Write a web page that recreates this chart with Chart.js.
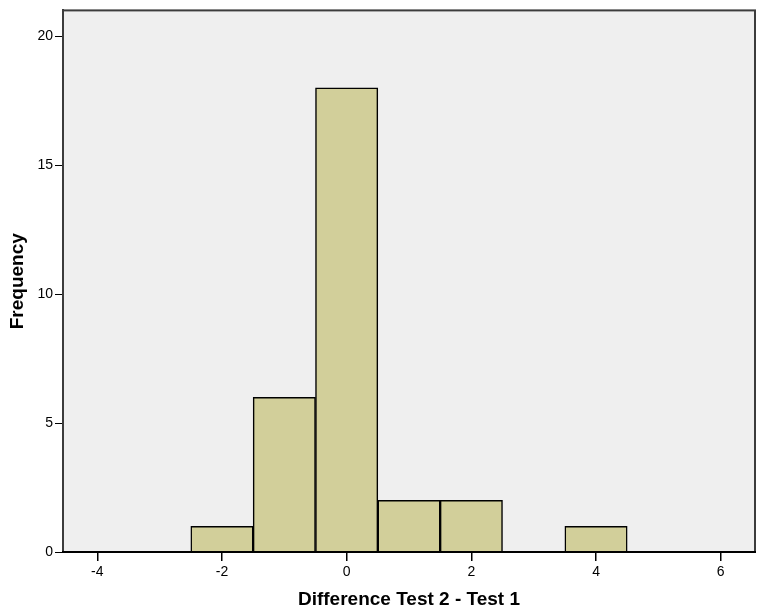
<!DOCTYPE html>
<html>
<head>
<meta charset="utf-8">
<script src="https://cdn.jsdelivr.net/npm/chart.js@4"></script>
<style>
  html, body { margin: 0; padding: 0; background: #fff; }
  #wrap { width: 771px; height: 611px; }
</style>
</head>
<body>
<div id="wrap"><canvas id="histChart" width="771" height="611"></canvas></div>
<script>
// histogram bins (centre of each 1-wide bin) and counts
const binCenters = [-2, -1, 0, 1, 2, 3, 4];
const frequencies = [1, 6, 18, 2, 2, 0, 1];
const xTicks = [-4, -2, 0, 2, 4, 6];
const yTicks = [0, 5, 10, 15, 20];

const ctx = document.getElementById("histChart");

// grey plot background + frame round the chart area
const plotFrame = {
  id: "plotFrame",
  beforeDatasetsDraw(chart) {
    const a = chart.chartArea;
    const c = chart.ctx;
    c.save();
    c.fillStyle = "#efefef";
    c.fillRect(a.left, a.top, a.right - a.left, a.bottom - a.top);
    c.restore();
  },
  afterDatasetsDraw(chart) {
    const a = chart.chartArea;
    const c = chart.ctx;
    c.save();
    c.strokeStyle = "#3c3c3c";
    c.lineWidth = 2;
    c.strokeRect(a.left, a.top, a.right - a.left, a.bottom - a.top);
    // bottom axis is black in the original
    c.strokeStyle = "#000";
    c.beginPath();
    c.moveTo(a.left - 1, a.bottom);
    c.lineTo(a.right + 1, a.bottom);
    c.stroke();
    c.restore();
  },
};

const tickFont = { family: "Arial, 'Liberation Sans'", size: 14 };
const titleFont = { family: "Arial, 'Liberation Sans'", size: 19, weight: "bold" };

new Chart(ctx, {
  type: "bar",
  data: {
    datasets: [
      {
        label: "Frequency",
        data: binCenters.map((x, i) => ({ x: x, y: frequencies[i] })),
        backgroundColor: "#d2cf9a",
        borderColor: "#000000",
        borderWidth: 1.5,
        barPercentage: 1,
        categoryPercentage: 1,
      },
    ],
  },
  options: {
    responsive: false,
    animation: false,
    layout: { padding: { top: 8, right: 16, left: 0, bottom: 0 } },
    plugins: {
      legend: { display: false },
      tooltip: { enabled: false },
    },
    scales: {
      x: {
        type: "linear",
        offset: false,
        min: -4.55,
        max: 6.55,
        afterBuildTicks: (scale) => {
          scale.ticks = xTicks.map((v) => ({ value: v }));
        },
        afterFit: (scale) => {
          scale.height = 59;
        },
        grid: {
          offset: false,
          drawOnChartArea: false,
          drawTicks: true,
          tickLength: 9,
          lineWidth: 1.5,
          color: "#000",
        },
        border: { display: true, color: "#000", width: 2 },
        ticks: {
          color: "#000",
          font: tickFont,
          padding: 3,
        },
        title: {
          display: true,
          text: "Difference Test 2 - Test 1",
          color: "#000",
          font: titleFont,
          padding: { top: 4, bottom: 0 },
        },
      },
      y: {
        min: 0,
        max: 21,
        afterBuildTicks: (scale) => {
          scale.ticks = yTicks.map((v) => ({ value: v }));
        },
        afterFit: (scale) => {
          scale.width = 63;
        },
        grid: {
          drawOnChartArea: false,
          drawTicks: true,
          tickLength: 8,
          color: "#000",
        },
        border: { display: true, color: "#3c3c3c", width: 2 },
        ticks: {
          color: "#000",
          font: tickFont,
          padding: 2,
        },
        title: {
          display: true,
          text: "Frequency",
          color: "#000",
          font: titleFont,
          padding: { top: 6, bottom: 0 },
        },
      },
    },
  },
  plugins: [plotFrame],
});
</script>
</body>
</html>
